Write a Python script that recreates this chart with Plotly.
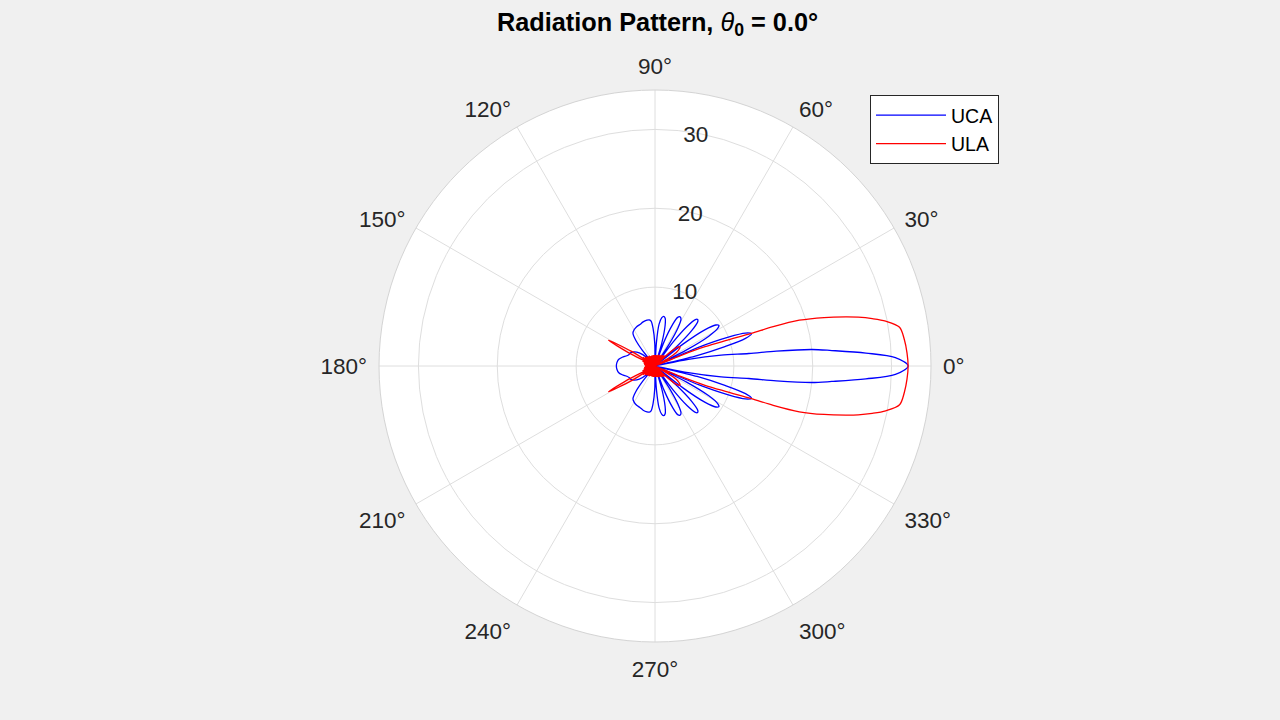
import plotly.graph_objects as go

# ---- UCA (blue) : angle in degrees, magnitude ----
uca_theta = [0, 2, 3.5, 5, 6, 7, 7.6, 9.4, 11.3, 12.5,
             14, 15.5, 17, 18.5, 20, 21.5, 23.3, 25,
             27, 29, 31, 32.5, 34, 36, 38, 40,
             42, 44, 46, 47.5, 49, 51, 53, 55,
             57, 59, 61, 63, 65, 67, 69.5, 71.5,
             73.5, 76, 78, 80, 82, 84.5, 86.5, 88.5,
             90.5, 93, 95, 97, 100, 105, 110, 115, 120, 124, 127, 129, 131,
             134, 140, 146, 151, 156, 160, 165, 170, 175, 180,
             185, 190, 195, 200, 204, 209, 214, 220, 226,
             229, 231, 233, 236, 240, 245, 250, 255, 260, 263, 265, 267, 269.5,
             271.5, 273.5, 275.5, 278, 280, 282, 284, 286.5,
             288.5, 290.5, 293, 295, 297, 299, 301, 303,
             305, 307, 309, 311, 312.5, 314, 316, 318,
             320, 322, 324, 326, 327.5, 329, 331, 333,
             335, 336.7, 338.5, 340, 341.5, 343, 344.5, 346,
             347.5, 348.7, 350.6, 352.4, 353, 354, 355, 356.5, 358, 360]
uca_r = [32.1, 30.5, 26.8, 22.5, 20, 15.5, 12, 8.5, 4.3, 0,
         5.5, 9.2, 12, 12.9, 12.2, 10, 6, 0,
         4.5, 7.8, 9.3, 9.6, 9.3, 7.8, 4.5, 0,
         3.8, 6.5, 7.8, 8.0, 7.8, 6.5, 3.8, 0,
         3.3, 5.7, 6.8, 7.0, 6.8, 5.7, 3.3, 0,
         3.0, 5.3, 6.2, 6.4, 6.2, 5.3, 3.0, 0,
         2.8, 4.8, 5.7, 5.9, 5.9, 5.8, 5.6, 5.5, 5.3, 5.0, 4.0, 2.5, 0.3,
         1.5, 2.6, 3.2, 3.5, 3.6, 3.8, 4.3, 4.7, 4.85, 4.9,
         4.85, 4.7, 4.3, 3.8, 3.6, 3.5, 3.2, 2.6, 1.5,
         0.3, 2.5, 4.0, 5.0, 5.3, 5.5, 5.6, 5.8, 5.9, 5.9, 5.7, 4.8, 2.8,
         0, 3.0, 5.3, 6.2, 6.4, 6.2, 5.3, 3.0,
         0, 3.3, 5.7, 6.8, 7.0, 6.8, 5.7, 3.3,
         0, 3.8, 6.5, 7.8, 8.0, 7.8, 6.5, 3.8,
         0, 4.5, 7.8, 9.3, 9.6, 9.3, 7.8, 4.5,
         0, 6, 10, 12.2, 12.9, 12, 9.2, 5.5,
         0, 4.3, 8.5, 12, 15.5, 20, 22.5, 26.8, 30.5, 32.1]

# ---- ULA (red) : angle in degrees, magnitude ----
ula_theta = [0, 3, 6, 9, 11, 12.3, 13.5, 14.4, 16, 17.6, 18.4, 18.7, 19.8, 21.1, 22.2, 23,
             26, 28.5, 31, 34, 37.5, 40.5, 43, 45,
             48, 51, 54, 57, 60, 63, 66, 69, 72, 75, 78, 81, 84, 87, 90,
             93, 96, 99, 102, 105, 108, 111, 114, 117, 120, 123, 126, 129, 132,
             135, 138, 141, 144, 146, 148, 151, 153.5, 156,
             159, 162, 165, 168, 171, 174, 177, 180,
             183, 186, 189, 192, 195, 198, 201, 204,
             206.5, 209, 212, 214, 216, 219, 222, 225,
             228, 231, 234, 237, 240, 243, 246, 249, 252, 255, 258, 261, 264, 267,
             270, 273, 276, 279, 282, 285, 288, 291, 294, 297, 300, 303, 306, 309, 312,
             315, 317, 319.5, 322.5, 326, 329, 331.5, 334,
             337, 337.8, 338.9, 340.2, 341.3, 341.6, 342.4, 344, 345.6, 346.5, 347.7,
             349, 351, 354, 357, 360]
ula_r = [32.1, 32.0, 31.8, 31.4, 29.8, 28.2, 26.5, 25.0, 22.3, 19.2, 15.8, 12.9, 9.5, 6.8, 3.5, 0,
         2.0, 0, 2.6, 3.6, 4.0, 3.6, 2.2, 0,
         1.8, 0, 1.7, 0, 1.6, 0, 1.5, 0, 1.5, 0, 1.4, 0, 1.4, 0, 1.4,
         0, 1.4, 0, 1.4, 0, 1.4, 0, 1.4, 0, 1.5, 0, 1.5, 0, 1.6,
         0, 1.7, 0, 1.9, 0, 3.5, 6.75, 3.5, 0,
         1.7, 0, 1.5, 0, 1.4, 0, 1.3, 0,
         1.3, 0, 1.4, 0, 1.5, 0, 1.7, 0,
         3.5, 6.75, 3.5, 0, 1.9, 0, 1.7, 0,
         1.6, 0, 1.5, 0, 1.5, 0, 1.4, 0, 1.4, 0, 1.4, 0, 1.4, 0,
         1.4, 0, 1.4, 0, 1.4, 0, 1.5, 0, 1.5, 0, 1.6, 0, 1.7, 0, 1.8,
         0, 2.2, 3.6, 4.0, 3.6, 2.6, 0, 2.0,
         0, 3.5, 6.8, 9.5, 12.9, 15.8, 19.2, 22.3, 25.0, 26.5, 28.2,
         29.8, 31.4, 31.8, 32.0, 32.1]

r_ticks = [10, 20, 30]
r_max = 35
theta_ticks = [0, 30, 60, 90, 120, 150, 180, 210, 240, 270, 300, 330]
theta_labels = [f"{t}°" for t in theta_ticks]

FONT = "Liberation Sans, Arial, Helvetica, sans-serif"
TXT = "#262626"
GRID = "#dedede"

fig = go.Figure()
fig.add_trace(go.Scatterpolar(
    theta=uca_theta, r=uca_r, mode="lines", name="UCA",
    line=dict(color="#0000ff", width=1.3, shape="spline", smoothing=0.9)))
fig.add_trace(go.Scatterpolar(
    theta=ula_theta, r=ula_r, mode="lines", name="ULA",
    line=dict(color="#ff0000", width=1.3, shape="spline", smoothing=0.9)))

fig.update_layout(
    width=1280, height=720,
    paper_bgcolor="#f0f0f0",
    margin=dict(l=0, r=0, t=0, b=0),
    font=dict(family=FONT, size=21, color=TXT),
    title=dict(
        text="<b>Radiation Pattern, </b><i>θ</i><sub><b>0</b></sub><b> = 0.0°</b>",
        x=0.5137, y=0.969, xanchor="center", yanchor="middle",
        font=dict(family=FONT, size=25.3, color="#000000")),
    polar=dict(
        domain=dict(x=[(655 - 276) / 1280, (655 + 276) / 1280],
                    y=[(354 - 276) / 720, (354 + 276) / 720]),
        bgcolor="#ffffff",
        angularaxis=dict(
            direction="counterclockwise", rotation=0,
            tickmode="array", tickvals=theta_ticks, ticktext=theta_labels,
            ticks="outside", ticklen=7, tickcolor="rgba(0,0,0,0)",
            showline=True, linecolor="#d4d4d4", linewidth=1,
            showgrid=True, gridcolor=GRID, gridwidth=1,
            tickfont=dict(family=FONT, size=22.5, color=TXT)),
        radialaxis=dict(
            range=[0, r_max], tickmode="array", tickvals=r_ticks,
            ticktext=[str(v) for v in r_ticks],
            angle=86, tickangle=86, ticks="", showline=False,
            showgrid=True, gridcolor=GRID, gridwidth=1,
            tickfont=dict(family=FONT, size=22.5, color=TXT)),
    ),
    showlegend=True,
    legend=dict(
        x=870 / 1280, y=1 - 95 / 720, xanchor="left", yanchor="top",
        bgcolor="#ffffff", bordercolor="#262626", borderwidth=1,
        itemwidth=70, font=dict(family=FONT, size=19.5, color="#000000"),
        tracegroupgap=0),
)

fig.write_html(
    "out.html",
    config={"displayModeBar": False},
    post_script="document.body.style.margin='0';"
                "document.body.style.background='#f0f0f0';")
